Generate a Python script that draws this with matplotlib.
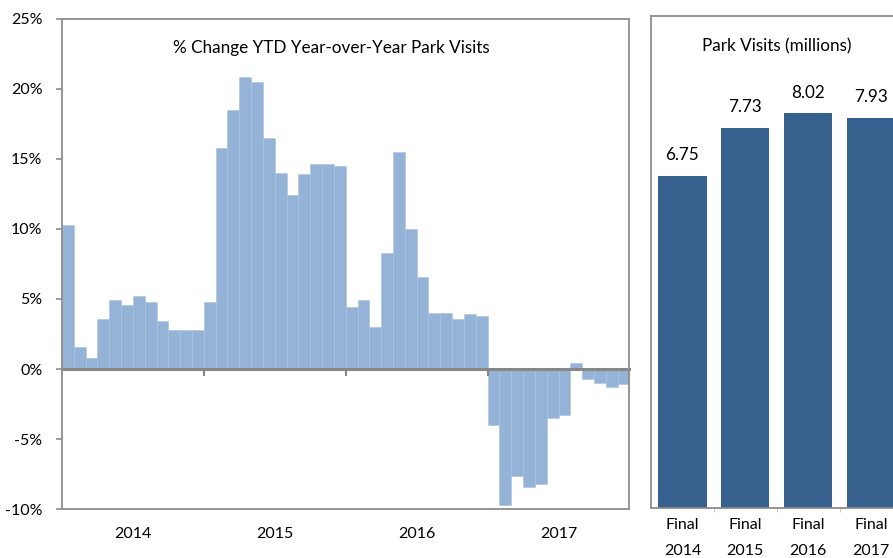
import matplotlib
matplotlib.use('Agg')
import matplotlib.pyplot as plt
from matplotlib.patches import Rectangle
import numpy as np

# monthly YTD % change, Jan 2014 .. Dec 2017
ytd_change = [10.3, 1.6, 0.8, 3.6, 4.9, 4.6, 5.2, 4.8, 3.4, 2.8, 2.8, 2.8,
              4.8, 15.8, 18.5, 20.8, 20.5, 16.5, 14.0, 12.4, 13.9, 14.6, 14.6, 14.5,
              4.4, 4.9, 3.0, 8.3, 15.5, 10.0, 6.6, 4.0, 4.0, 3.6, 3.9, 3.8,
              -4.0, -9.7, -7.6, -8.4, -8.2, -3.5, -3.3, 0.4, -0.7, -1.0, -1.3, -1.1]
years = ['2014', '2015', '2016', '2017']
yticks = [25, 20, 15, 10, 5, 0, -5, -10]

visit_labels = ['Final\n2014', 'Final\n2015', 'Final\n2016', 'Final\n2017']
visits = [6.75, 7.73, 8.02, 7.93]

plt.rcParams['font.family'] = ['Lato', 'DejaVu Sans']
plt.rcParams['font.size'] = 11.5
gray = '#8C8C8C'

fig = plt.figure(figsize=(8.93, 5.58), dpi=100)

# left panel
ax = fig.add_axes([0.0694, 0.0873, 0.6355, 0.8795])
x = np.arange(len(ytd_change))
ax.bar(x, ytd_change, width=1.0, color='#95B3D7', edgecolor='#A9C2E0', linewidth=0.4)
ax.set_xlim(-0.5, len(ytd_change) - 0.5)
ax.set_ylim(-10, 25)
ax.set_yticks(yticks)
ax.set_yticklabels(['%d%%' % v for v in yticks])
ax.tick_params(axis='y', length=4, width=1.2, color=gray, pad=10, labelsize=11.5)

for s in ['top', 'right', 'left']:
    ax.spines[s].set_visible(False)
ax.spines['bottom'].set_position(('data', 0))
ax.spines['bottom'].set_color('#868686')
ax.spines['bottom'].set_linewidth(2.2)
ax.spines['bottom'].set_zorder(3)
ax.set_xticks([11.5, 23.5, 35.5])
ax.set_xticklabels([])
ax.tick_params(axis='x', length=5, width=1.5, color='#868686', direction='out')
ax.add_patch(Rectangle((0, 0), 1, 1, transform=ax.transAxes, fill=False,
                       edgecolor=gray, linewidth=1.3, clip_on=False, zorder=4))

for i, yr in enumerate(years):
    ax.text(i * 12 + 5.5, -0.05, yr, transform=ax.get_xaxis_transform(),
            ha='center', va='center', fontsize=11.5)
ax.text(0.475, 0.94, '% Change YTD Year-over-Year Park Visits', transform=ax.transAxes,
        ha='center', va='center', fontsize=12.3)

# right panel
ax2 = fig.add_axes([0.729, 0.0896, 0.271, 0.8817])
xb = np.arange(len(visits))
bars = ax2.bar(xb, visits, width=0.77, color='#37618F')
ax2.set_xlim(-0.5, 3.35)
ax2.set_ylim(0, 10)
ax2.set_yticks([])
ax2.set_xticks(xb)
ax2.set_xticklabels(visit_labels, linespacing=2.15)
ax2.set_xticks([0.5, 1.5, 2.5], minor=True)
ax2.tick_params(axis='x', which='major', length=0, pad=7, labelsize=11.5)
ax2.tick_params(axis='x', which='minor', length=3, color='#BFBFBF')
for s in ['top', 'left', 'bottom']:
    ax2.spines[s].set_color(gray)
    ax2.spines[s].set_linewidth(1.3)
ax2.spines['right'].set_visible(False)
for b, v in zip(bars, visits):
    ax2.annotate('%.2f' % v, (b.get_x() + b.get_width() / 2, v), xytext=(0, 15),
                 textcoords='offset points', ha='center', va='center', fontsize=12.3)
fig.text(777 / 893, 1 - 46 / 558, 'Park Visits (millions)', ha='center', va='center', fontsize=12.3)

fig.savefig('out.png', dpi=100)
